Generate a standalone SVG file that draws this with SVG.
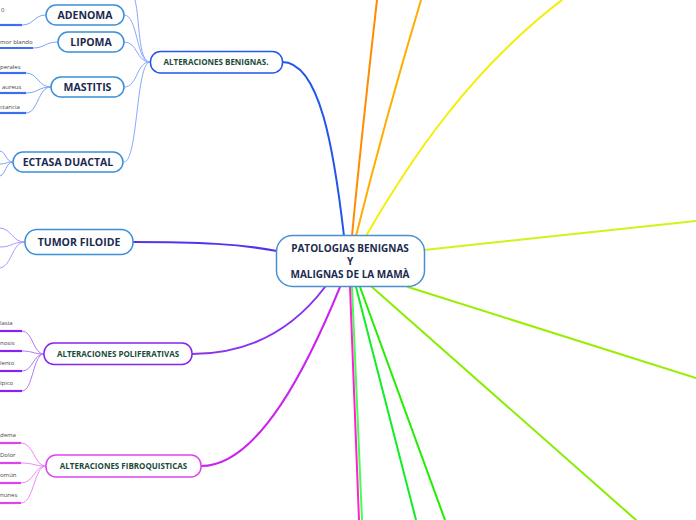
<svg xmlns="http://www.w3.org/2000/svg" width="696" height="520" viewBox="0 0 696 520">
<style>
.bg{fill:#ffffff}
.node{fill:#ffffff;stroke-width:1.5}
.main{stroke:#4a90d0}
.sub{stroke:#3a8fd8}
.t-main{font-family:"Open Sans","Liberation Sans",sans-serif;font-weight:700;font-size:10px;fill:#1b2a4e;text-anchor:middle}
.t-sub{font-family:"Open Sans","Liberation Sans",sans-serif;font-weight:700;font-size:10.5px;fill:#1b2a4e;text-anchor:middle}
.t-cat{font-family:"Open Sans","Liberation Sans",sans-serif;font-weight:700;font-size:8px;fill:#1b4a3a;text-anchor:middle}
.t-leaf{font-family:"Open Sans","Liberation Sans",sans-serif;font-size:6px;fill:#444444}
.c{fill:none;stroke-width:2;stroke-linecap:round}
.cs{fill:none;stroke-width:1}
.ul{stroke-width:2.2}
</style>
<rect class="bg" width="696" height="520"/>
<g id="connectors">
  <path class="c" stroke="#2255ee" d="M282,62 C320,62 334,150 344,236"/>
  <path class="c" stroke="#ff8c00" d="M352,236 C360,150 368,80 377,0"/>
  <path class="c" stroke="#ffae00" d="M356,236 C375,160 400,70 421,0"/>
  <path class="c" stroke="#f5ee00" d="M366,236 C410,160 470,70 562,0"/>
  <path class="c" stroke="#ccf51a" d="M424,250 L696,221"/>
  <path class="c" stroke="#99ee00" d="M408,287 L696,378"/>
  <path class="c" stroke="#88ee00" d="M372,287 L636,520"/>
  <path class="c" stroke="#22ee00" d="M360,287 L445,520"/>
  <path class="c" stroke="#11ee22" d="M356,287 L416,520"/>
  <path class="c" stroke="#44ff55" d="M352,287 L362,520"/>
  <path class="c" stroke="#ff22cc" d="M350,287 L359,520"/>
  <path class="c" stroke="#5533ee" d="M133,242 C200,242 240,244 277,251"/>
  <path class="c" stroke="#8833ee" d="M192,354 C260,354 300,320 325,287"/>
  <path class="c" stroke="#cc22ee" d="M201,466 C260,466 310,360 340,287"/>
  <path class="cs" stroke="#88a8ff" d="M150,62 C138,62 140,20 135,0"/>
  <path class="cs" stroke="#88a8ff" d="M150,62 C136,62 138,15 124,15"/>
  <path class="cs" stroke="#88a8ff" d="M150,62 C136,62 138,42 124,42"/>
  <path class="cs" stroke="#88a8ff" d="M150,62 C136,62 138,87 124,87"/>
  <path class="cs" stroke="#88a8ff" d="M150,62 C136,62 138,162 124,162"/>
  <path class="cs" stroke="#7ea2f5" d="M46,15 C34,15 34,25 22,25"/>
  <path class="cs" stroke="#7ea2f5" d="M58,42 C45,42 45,48 33,48"/>
  <path class="cs" stroke="#7ea2f5" d="M51,87 C38,87 38,73 26,73"/>
  <path class="cs" stroke="#7ea2f5" d="M51,87 C38,87 38,93 26,93"/>
  <path class="cs" stroke="#7ea2f5" d="M51,87 C38,87 38,113 26,113"/>
  <path class="cs" stroke="#7ea2f5" d="M13,162 C6,162 6,152 0,151"/>
  <path class="cs" stroke="#7ea2f5" d="M13,162 C6,162 6,164 0,164"/>
  <path class="cs" stroke="#7ea2f5" d="M13,162 C6,162 6,174 0,176"/>
  <path class="cs" stroke="#a99aff" d="M25,242 C12,242 12,229 0,228"/>
  <path class="cs" stroke="#a99aff" d="M25,242 C12,242 12,247 0,247"/>
  <path class="cs" stroke="#a99aff" d="M25,242 C12,242 12,266 0,268"/>
  <path class="cs" stroke="#b07af5" d="M44,354 C33,354 33,331 22,331"/>
  <path class="cs" stroke="#b07af5" d="M44,354 C33,354 33,351 22,351"/>
  <path class="cs" stroke="#b07af5" d="M44,354 C33,354 33,371 22,371"/>
  <path class="cs" stroke="#b07af5" d="M44,354 C33,354 33,391 22,391"/>
  <path class="cs" stroke="#e88af5" d="M46,466 C34,466 34,443 21,443"/>
  <path class="cs" stroke="#e88af5" d="M46,466 C34,466 34,463 21,463"/>
  <path class="cs" stroke="#e88af5" d="M46,466 C34,466 34,483 21,483"/>
  <path class="cs" stroke="#e88af5" d="M46,466 C34,466 34,503 21,503"/>
</g>
<g id="leaves">
  <line class="ul" stroke="#3a6ff0" x1="0" y1="25" x2="22" y2="25"/>
  <text class="t-leaf" x="1" y="12">0</text>
  <line class="ul" stroke="#3a6ff0" x1="0" y1="48" x2="33" y2="48"/>
  <text class="t-leaf" x="0" y="44">mor blando</text>
  <line class="ul" stroke="#3a6ff0" x1="0" y1="73" x2="26" y2="73"/>
  <text class="t-leaf" x="0" y="69">perales</text>
  <line class="ul" stroke="#3a6ff0" x1="0" y1="93" x2="26" y2="93"/>
  <text class="t-leaf" x="2" y="89">aureus</text>
  <line class="ul" stroke="#3a6ff0" x1="0" y1="113" x2="26" y2="113"/>
  <text class="t-leaf" x="0" y="109">ctancia</text>
  <line class="ul" stroke="#8822ee" x1="0" y1="331" x2="22" y2="331"/>
  <text class="t-leaf" x="0" y="325">lasia</text>
  <line class="ul" stroke="#8822ee" x1="0" y1="351" x2="22" y2="351"/>
  <text class="t-leaf" x="0" y="345">nosis</text>
  <line class="ul" stroke="#8822ee" x1="0" y1="371" x2="22" y2="371"/>
  <text class="t-leaf" x="0" y="365">lento</text>
  <line class="ul" stroke="#8822ee" x1="0" y1="391" x2="22" y2="391"/>
  <text class="t-leaf" x="0" y="385">ípico</text>
  <line class="ul" stroke="#dd44ee" x1="0" y1="443" x2="21" y2="443"/>
  <text class="t-leaf" x="0" y="437">dema</text>
  <line class="ul" stroke="#dd44ee" x1="0" y1="463" x2="21" y2="463"/>
  <text class="t-leaf" x="0" y="457">Dolor</text>
  <line class="ul" stroke="#dd44ee" x1="0" y1="483" x2="21" y2="483"/>
  <text class="t-leaf" x="0" y="477">omún</text>
  <line class="ul" stroke="#dd44ee" x1="0" y1="503" x2="21" y2="503"/>
  <text class="t-leaf" x="0" y="497">nunes</text>
</g>
<g id="node-main">
  <rect class="node main" x="276.5" y="235.5" width="148" height="51" rx="16"/>
  <text class="t-main" x="350" y="252">PATOLOGIAS BENIGNAS</text>
  <text class="t-main" x="350" y="265">Y</text>
  <text class="t-main" x="350" y="278">MALIGNAS DE LA MAMÀ</text>
</g>
<g id="node-benignas">
  <rect class="node" stroke="#2255ee" x="150.5" y="51.5" width="132" height="21.5" rx="10"/>
  <text class="t-cat" x="216" y="65">ALTERACIONES BENIGNAS.</text>
</g>
<g id="node-adenoma">
  <rect class="node sub" x="46" y="5" width="78" height="20" rx="10"/>
  <text class="t-sub" x="85" y="19">ADENOMA</text>
</g>
<g id="node-lipoma">
  <rect class="node sub" x="58" y="32" width="66" height="20" rx="10"/>
  <text class="t-sub" x="91" y="46">LIPOMA</text>
</g>
<g id="node-mastitis">
  <rect class="node sub" x="51" y="77" width="73" height="20" rx="10"/>
  <text class="t-sub" x="87.5" y="91">MASTITIS</text>
</g>
<g id="node-ectasa">
  <rect class="node sub" x="13" y="152" width="110" height="20" rx="10"/>
  <text class="t-sub" x="68" y="166">ECTASA DUACTAL</text>
</g>
<g id="node-filoide">
  <rect class="node sub" x="25" y="229.5" width="108" height="25" rx="12"/>
  <text class="t-sub" x="79" y="246">TUMOR FILOIDE</text>
</g>
<g id="node-poliferativas">
  <rect class="node" stroke="#8822ee" x="44" y="343" width="148" height="21.5" rx="10"/>
  <text class="t-cat" x="118" y="357">ALTERACIONES POLIFERATIVAS</text>
</g>
<g id="node-fibroquisticas">
  <rect class="node" stroke="#dd44ee" x="46" y="455" width="155" height="22" rx="10"/>
  <text class="t-cat" x="123.5" y="469">ALTERACIONES FIBROQUISTICAS</text>
</g>
</svg>
